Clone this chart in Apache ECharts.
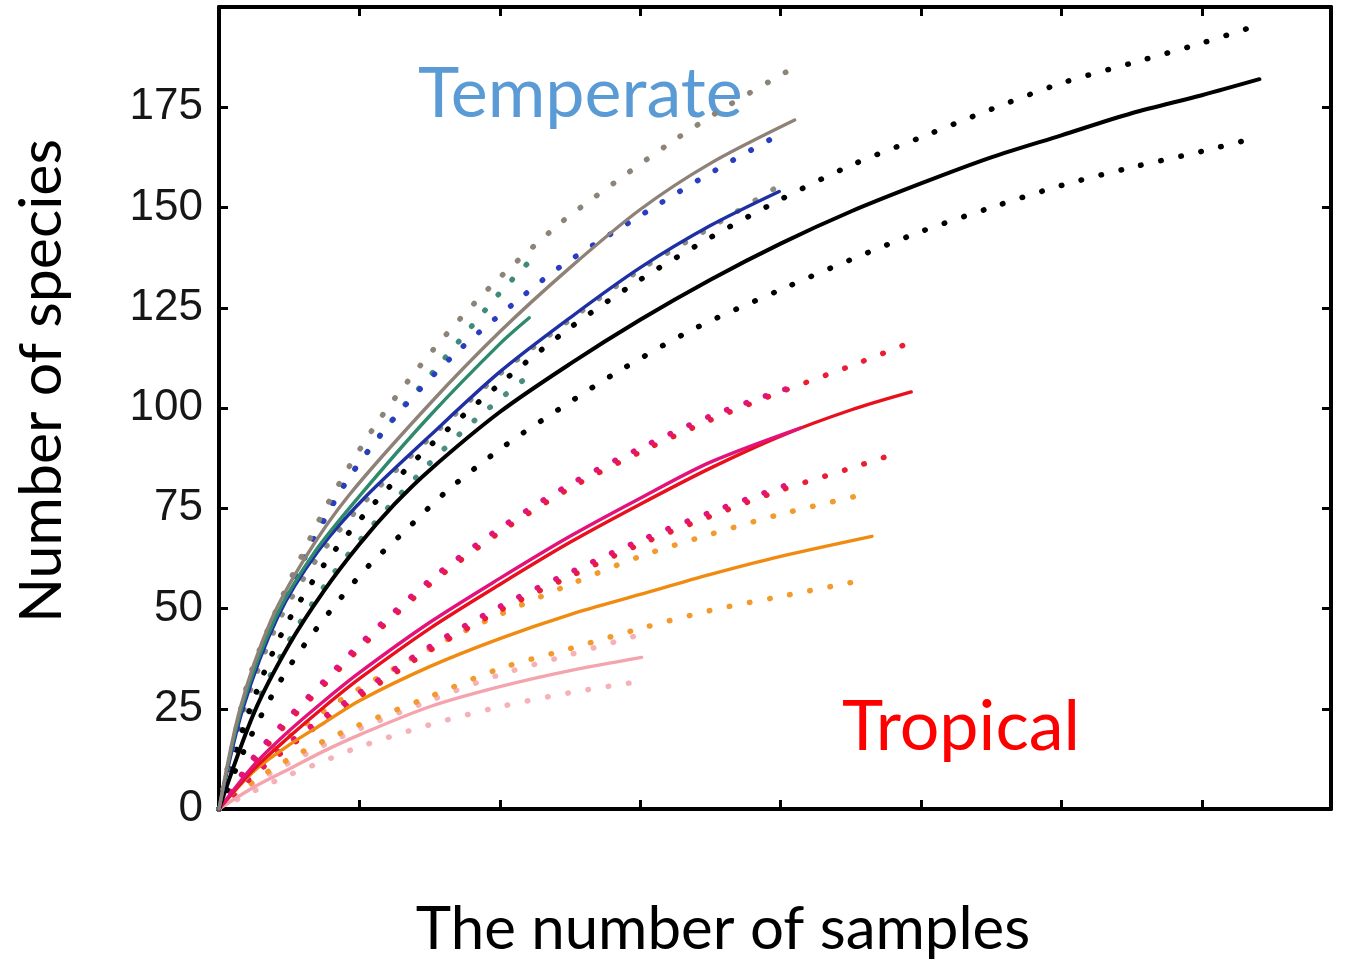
<!DOCTYPE html>
<html>
<head>
<meta charset="utf-8">
<title>Rarefaction curves</title>
<script src="https://cdn.jsdelivr.net/npm/echarts@6/dist/echarts.min.js"></script>
<style>
  html, body { margin: 0; padding: 0; background: #fff; }
  #chart { width: 1345px; height: 960px; }
</style>
</head>
<body>
<div id="chart"></div>
<script>
// y axis tick labels
var yTicks = [0, 25, 50, 75, 100, 125, 150, 175];

// temperate curves, [samples, species]
var grayMean  = [[0,0],[0.15,25],[0.37,47],[0.62,63],[0.92,78],[1.5,101],[2,119],[2.5,135],[3,149.5],[3.5,161],[4.1,171.8]];
var grayHi    = [[0,0],[0.2,31],[0.4,49],[0.56,61],[0.78,76.5],[1.12,96],[1.52,114.3],[1.94,130.5],[2.41,145.5],[2.68,152.7],[3.21,166],[3.62,175.3],[4.04,183.8]];
var grayLo    = [[0,0],[0.17,24],[0.42,46.5],[0.7,62.5],[1.02,76],[1.5,92.5],[2,108.5],[2.5,122],[3,134.5],[3.5,145],[4.04,156.5]];
var blueMean  = [[0,0],[0.17,25],[0.42,48],[0.7,64],[1.02,77],[1.5,93],[2,109],[2.5,122.5],[3,135],[3.5,145.5],[3.99,154]];
var blueHi    = [[0,0],[0.2,29],[0.45,51],[0.87,79.5],[1.25,97.6],[1.69,113.8],[2.16,127.8],[2.45,135.7],[3.14,151],[3.54,159.4],[3.96,167.6]];
var tealMean  = [[0,0],[0.16,25],[0.4,47.5],[0.67,63.5],[1,78],[1.5,98],[2,116],[2.21,122.5]];
var tealHi    = [[0,0],[0.2,30],[0.42,49],[0.8,76],[1.2,95.5],[1.55,110],[1.79,120],[2,128.7],[2.21,136.5]];
var tealLo    = [[0,0],[0.2,21],[0.5,42],[0.8,58],[1.1,71],[1.48,85.5],[1.82,96.9],[2.19,107.6]];
var blackMean = [[0,0],[0.25,24],[0.5,41],[0.75,54.5],[1,66],[1.25,76],[1.5,84.5],[2,99],[2.5,111],[3,122],[3.5,132],[4,141],[4.5,149],[5,156],[5.5,162.5],[6,168],[6.5,173.5],[7,178],[7.41,182]];
var blackHi   = [[0,0],[0.2,23],[0.45,44],[0.75,61],[1.1,76],[1.5,90.5],[2,106],[2.5,120],[3,132],[3.5,142.5],[4,152],[4.5,160.5],[5,167.5],[5.5,174.5],[6,181],[6.5,186],[7,191],[7.4,195.5]];
var blackLo   = [[0,0],[0.18,14.7],[0.32,24.6],[0.48,34.4],[0.66,43.4],[0.86,52.3],[1.07,60.8],[1.3,68.5],[1.63,79.5],[2.04,90.7],[2.43,99.9],[2.82,108.6],[3.37,119.5],[4,129.5],[4.5,137],[5,144],[5.5,150],[6,155.5],[6.5,160],[7,164],[7.34,167]];

// tropical curves
var redMean     = [[0,0],[0.25,10],[0.5,18],[0.75,25.5],[1,32.5],[1.5,45],[2,56],[2.5,66.5],[3,76],[3.5,85],[4,93],[4.5,99.5],[4.93,104]];
var redHi       = [[0,0],[0.25,12],[0.5,22],[0.75,31],[1,40],[1.5,56],[2,69],[2.5,80],[3,89],[3.5,97],[4,104],[4.5,110.5],[4.9,116]];
var redLo       = [[0,0],[0.25,8.5],[0.5,15.5],[0.75,22],[1,28],[1.5,39.5],[2,49.5],[2.5,58],[3,66],[3.5,73],[4,79.5],[4.5,85],[4.85,89]];
var magentaMean = [[0,0],[0.25,11],[0.5,19.5],[0.75,27],[1,34],[1.5,46.5],[2,57.5],[2.5,68],[3,77.5],[3.5,86.5],[4.14,95]];
var magentaHi   = [[0,0],[0.25,13],[0.5,23],[0.75,32],[1,41],[1.5,57],[2,70],[2.5,81],[3,90],[3.5,98],[4.14,106]];
var magentaLo   = [[0,0],[0.25,9],[0.5,16.5],[0.75,23],[1,29],[1.5,40.5],[2,50.5],[2.5,59],[3,67],[3.5,74],[4.14,82]];
var orangeMean  = [[0,0],[0.25,9.5],[0.5,16],[0.75,21.5],[1,27],[1.5,35.5],[2,42.5],[2.5,48.5],[3,53.5],[3.5,58.5],[4,63],[4.65,68]];
var orangeHi    = [[0,0],[0.25,10],[0.5,18],[0.75,24.5],[1,30],[1.5,40],[2,48.5],[2.5,56],[3,63],[3.5,68.5],[4,73.5],[4.6,78.5]];
var orangeLo    = [[0,0],[0.25,7],[0.5,12.5],[0.75,17],[1,21],[1.5,28],[2,35],[2.5,40],[3,45],[3.5,49.5],[4,53],[4.55,56.8]];
var pinkMean    = [[0,0],[0.25,5.5],[0.5,10],[0.75,14.5],[1,18.5],[1.5,25.5],[2,30.5],[2.5,34.5],[3.01,37.8]];
var pinkHi      = [[0,0],[0.25,6.5],[0.5,11.5],[0.75,16],[1,20],[1.5,27],[2,33.5],[2.5,38.5],[3,43.5]];
var pinkLo      = [[0,0],[0.25,4.5],[0.5,8.5],[0.75,12],[1,15.5],[1.5,21],[2,25.5],[2.5,29],[2.96,31.6]];

var curves = [
  // data, colour, dotted?
  [pinkHi, '#f6b0b8', true],
  [pinkLo, '#f6b0b8', true],
  [orangeHi, '#f29a2e', true],
  [orangeLo, '#f29a2e', true],
  [redLo, '#ec1c34', true],
  [magentaLo, '#e0147c', true],
  [redHi, '#ec1c34', true],
  [magentaHi, '#e0147c', true],
  [blackLo, '#000000', true],
  [tealLo, '#4a8c80', true],
  [grayLo, '#8c8c84', true],
  [blackHi, '#000000', true],
  [tealHi, '#3f8a78', true],
  [blueHi, '#2a3cc0', true],
  [grayHi, '#8c8478', true],
  [pinkMean, '#f4a4ac', false],
  [orangeMean, '#f08a10', false],
  [redMean, '#e8101c', false],
  [magentaMean, '#e2127a', false],
  [blackMean, '#000000', false],
  [blueMean, '#1f2fa4', false],
  [tealMean, '#2e8a6c', false],
  [grayMean, '#8e8278', false]
];

var seriesList = [];
for (var i = 0; i < curves.length; i++) {
  var c = curves[i];
  seriesList.push({
    type: 'line',
    data: c[0],
    smooth: 0.3,
    showSymbol: false,
    silent: true,
    z: c[2] ? 2 : 3,
    lineStyle: c[2]
      ? { color: c[1], width: 5.5, type: [0.5, 20], cap: 'round' }
      : { color: c[1], width: c[1] === '#000000' ? 4 : 3.4, cap: 'round' }
  });
}

var axisBase = {
  type: 'value',
  axisLine: { show: true, onZero: false, lineStyle: { color: '#000', width: 4 } },
  axisTick: { show: true, inside: true, length: 9, lineStyle: { color: '#000', width: 3 } },
  splitLine: { show: false }
};

var myChart = echarts.init(document.getElementById('chart'));
var option = {
  animation: false,
  backgroundColor: '#fff',
  grid: { left: 219, right: 14, top: 7, bottom: 151 },
  xAxis: [
    Object.assign({}, axisBase, { position: 'bottom', min: 0, max: 7.92, interval: 1, axisLabel: { show: false } }),
    Object.assign({}, axisBase, { position: 'top', min: 0, max: 7.92, interval: 1, axisLabel: { show: false } })
  ],
  yAxis: [
    Object.assign({}, axisBase, {
      position: 'left', min: 0, max: 200, interval: 25,
      axisLabel: {
        show: true, margin: 16, fontFamily: 'Liberation Sans', fontSize: 44, color: '#161616',
        formatter: function (v) { return yTicks.indexOf(v) >= 0 ? String(v) : ''; }
      }
    }),
    Object.assign({}, axisBase, { position: 'right', min: 0, max: 200, interval: 25, axisLabel: { show: false } })
  ],
  series: seriesList,
  graphic: [
    { type: 'text', x: 418, y: 94, style: { text: 'Temperate', font: '70px Lato', fill: '#5b9bd5', textVerticalAlign: 'middle' } },
    { type: 'text', x: 842, y: 727, style: { text: 'Tropical', font: '70px Lato', fill: '#ff0000', textVerticalAlign: 'middle' } },
    { type: 'text', x: 723, y: 930, style: { text: 'The number of samples', font: '60px Lato', fill: '#000', textAlign: 'center', textVerticalAlign: 'middle' } },
    { type: 'text', x: 42, y: 381, rotation: Math.PI / 2, style: { text: 'Number of species', font: '59px Lato', fill: '#000', textAlign: 'center', textVerticalAlign: 'middle' } }
  ]
};
myChart.setOption(option);
</script>
</body>
</html>
